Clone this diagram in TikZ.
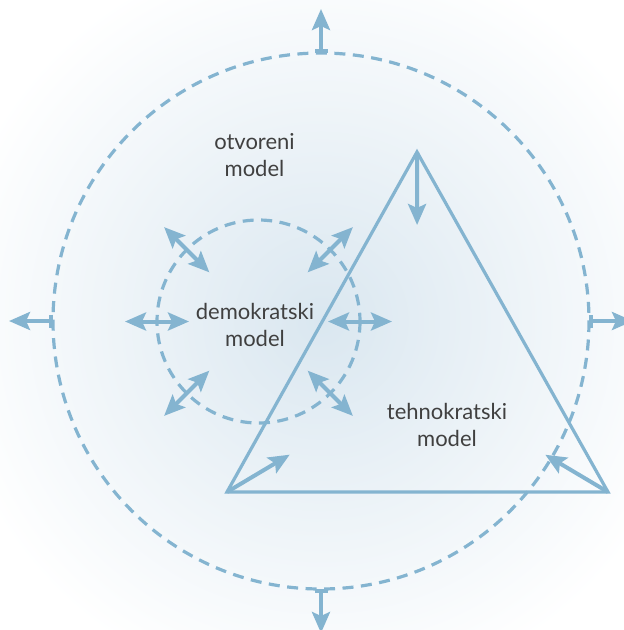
\documentclass[tikz,border=0pt]{standalone}
\usepackage{fontspec}
\setmainfont{Lato}
\usetikzlibrary{arrows.meta,calc}
\definecolor{lineblue}{RGB}{132,180,208}
\definecolor{bgblue}{RGB}{218,231,240}
\definecolor{textgray}{RGB}{64,64,64}
\begin{document}
\begin{tikzpicture}[
x=1pt,y=-1pt,
ring/.style={
draw=lineblue,
line width=3.2pt,
dash pattern=on 11pt off 7.5pt
},
outarrow/.style={draw=lineblue, line width=4pt, {Bar[width=13pt]}-{Stealth[length=21pt,width=18pt,inset=4pt]}},
twoway/.style={draw=lineblue, line width=4pt, {Stealth[length=21pt,width=18pt,inset=4pt]}-{Stealth[length=21pt,width=18pt,inset=4pt]}},
inarrow/.style={draw=lineblue, line width=4pt, -{Stealth[length=21pt,width=18pt,inset=4pt]}},
label/.style={
align=center,
text=textgray,
font=\fontsize{22}{27}\selectfont,
inner sep=0pt
}
]
\clip (0,0) rectangle (624,630);
\shade[inner color=bgblue, outer color=white] (321,321) circle (380);
\coordinate (open) at (321,321);
\coordinate (demo) at (258.5,321.5);
\coordinate (apex) at (417,152);
\coordinate (left) at (227,492);
\coordinate (right) at (608,492);
\coordinate (mid) at (417.3,378.7);
\draw[ring] (open) circle (268);
\foreach \a in {0,90,180,270}
{
\coordinate (o1) at ($(open)+(\a:268)$);
\coordinate (o2) at ($(open)+(\a:312)$);
\draw[outarrow] (o1) -- (o2);
}
\draw[ring] (demo) circle (101.5);
\foreach \a in {0,45,135,180,225,315}
{
\coordinate (d1) at ($(demo)+(\a:69.5)$);
\coordinate (d2) at ($(demo)+(\a:133.5)$);
\draw[twoway] (d1) -- (d2);
}
\draw[draw=lineblue, line width=3.2pt, line join=miter] (apex) -- (left) -- (right) -- cycle;
\foreach \c in {apex,left,right}
{
\coordinate (t1) at ($(\c)!73pt!(mid)$);
\draw[inarrow] (\c) -- (t1);
}
\node[label] (otv) at (254.5,155) {otvoreni\\model};
\node[label] (dem) at (255,325) {demokratski\\model};
\node[label] (teh) at (447,425) {tehnokratski\\model};
\end{tikzpicture}
\end{document}
